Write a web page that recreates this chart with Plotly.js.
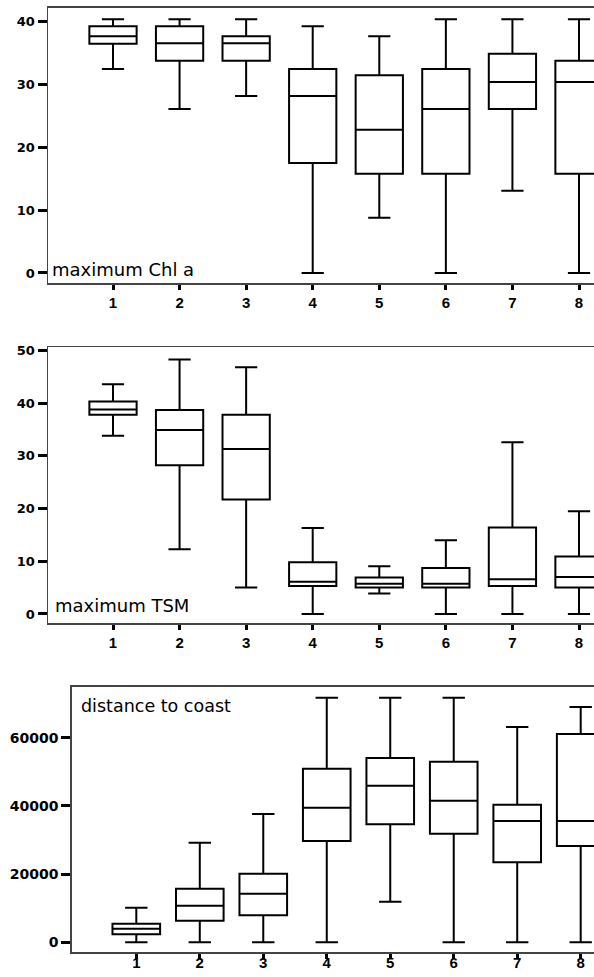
<!DOCTYPE html>
<html>
<head>
<meta charset="utf-8">
<script src="https://cdn.plot.ly/plotly-3.0.1.min.js"></script>
<style>
html,body{margin:0;padding:0;overflow:hidden;background:#fff;width:594px;height:977px;}
#chart{width:610px;height:977px;}
</style>
</head>
<body>
<div id="chart"></div>
<script>
// ---- data ----
var categories = [1, 2, 3, 4, 5, 6, 7, 8];
var tickLabels = ["1", "2", "3", "4", "5", "6", "7", "8"];

var chlLow  = [32.5, 26.1, 28.2, 0, 8.8, 0, 13.1, 0];
var chlQ1   = [36.5, 33.8, 33.8, 17.5, 15.8, 15.8, 26.1, 15.8];
var chlMed  = [37.7, 36.6, 36.6, 28.2, 22.8, 26.1, 30.4, 30.4];
var chlQ3   = [39.3, 39.3, 37.7, 32.5, 31.5, 32.5, 34.9, 33.8];
var chlHigh = [40.4, 40.4, 40.4, 39.3, 37.7, 40.4, 40.4, 40.4];

var tsmLow  = [33.8, 12.3, 5.0, 0, 3.9, 0, 0, 0];
var tsmQ1   = [37.8, 28.2, 21.7, 5.3, 5.0, 5.0, 5.3, 5.0];
var tsmMed  = [38.8, 34.9, 31.3, 6.1, 5.75, 5.75, 6.6, 7.0];
var tsmQ3   = [40.3, 38.7, 37.8, 9.8, 6.9, 8.7, 16.4, 10.9];
var tsmHigh = [43.6, 48.3, 46.8, 16.3, 9.05, 14.0, 32.6, 19.5];

var distLow  = [0, 0, 0, 0, 11900, 0, 0, 0];
var distQ1   = [2350, 6330, 7920, 29700, 34600, 31850, 23460, 28240];
var distMed  = [3990, 10730, 14250, 39470, 45920, 41520, 35570, 35570];
var distQ3   = [5450, 15720, 20120, 50910, 54050, 52960, 40350, 61090];
var distHigh = [10150, 29210, 37620, 71730, 71730, 71730, 63140, 69000];

var panelTitles = ["maximum Chl a", "maximum TSM", "distance to coast"];

// ---- layout helpers ----
var W = 610, H = 977;
function xf(px) { return px / W; }
function yf(py) { return 1 - py / H; }

var FONT = "DejaVu Sans, Arial, sans-serif";
var XFONT = "Liberation Sans, Arial, sans-serif";

function boxTrace(xa, ya, lo, q1, med, q3, hi, w) {
  return {
    type: "box", xaxis: xa, yaxis: ya,
    x: categories, lowerfence: lo, q1: q1, median: med, q3: q3, upperfence: hi,
    width: w, whiskerwidth: 0.47, boxpoints: false,
    fillcolor: "#ffffff", line: { color: "#000000", width: 2 },
    hoverinfo: "skip", showlegend: false
  };
}

var data = [
  boxTrace("x", "y", chlLow, chlQ1, chlMed, chlQ3, chlHigh, 0.71),
  boxTrace("x2", "y2", tsmLow, tsmQ1, tsmMed, tsmQ3, tsmHigh, 0.71),
  boxTrace("x3", "y3", distLow, distQ1, distMed, distQ3, distHigh, 0.75)
];

function xAxis(anchor, dom, range, standoff) {
  return {
    anchor: anchor, domain: dom, range: range,
    tickmode: "array", tickvals: categories, ticktext: tickLabels,
    ticks: "outside", ticklen: 5, tickwidth: 3, tickcolor: "#000",
    ticklabelstandoff: standoff,
    showline: true, mirror: true, linecolor: "#444", linewidth: 1.8,
    showgrid: false, zeroline: false,
    tickfont: { family: XFONT, size: 15, color: "#000", weight: "bold" }
  };
}
function yAxis(anchor, dom, range, tv, fmt, fs) {
  var a = {
    anchor: anchor, domain: dom, range: range,
    tickmode: "array", tickvals: tv,
    ticks: "outside", ticklen: 9, tickwidth: 3, tickcolor: "#000",
    showline: true, mirror: true, linecolor: "#444", linewidth: 1.5,
    showgrid: false, zeroline: false,
    tickfont: { family: FONT, size: fs, color: "#000", weight: "bold" }
  };
  if (fmt) a.tickformat = fmt;
  return a;
}

var layout = {
  width: W, height: H,
  margin: { l: 0, r: 0, t: 0, b: 0 },
  paper_bgcolor: "#fff", plot_bgcolor: "#fff",
  showlegend: false,
  xaxis: xAxis("y", [xf(48), 1], [1 - 65 / 66.57, 8 + 31 / 66.57], 0),
  yaxis: yAxis("x", [yf(283), yf(8)], [-1.6, 42.2], [0, 10, 20, 30, 40], null, 13),
  xaxis2: xAxis("y2", [xf(48), 1], [1 - 65 / 66.57, 8 + 31 / 66.57], 0),
  yaxis2: yAxis("x2", [yf(623.3), yf(347.3)], [-1.77, 50.6], [0, 10, 20, 30, 40, 50], null, 13),
  xaxis3: xAxis("y3", [xf(71.7), 1], [1 - 64.6 / 63.49, 8 + 29.3 / 63.49], -9),
  yaxis3: yAxis("x3", [yf(952), yf(686.7)], [-2845, 74956], [0, 20000, 40000, 60000], "d", 14),
  annotations: [
    { text: panelTitles[0], xref: "paper", yref: "paper", x: xf(50), y: yf(269),
      xanchor: "left", yanchor: "middle", showarrow: false,
      font: { family: FONT, size: 18, color: "#000" } },
    { text: panelTitles[1], xref: "paper", yref: "paper", x: xf(53), y: yf(605),
      xanchor: "left", yanchor: "middle", showarrow: false,
      font: { family: FONT, size: 18, color: "#000" } },
    { text: panelTitles[2], xref: "paper", yref: "paper", x: xf(79), y: yf(706),
      xanchor: "left", yanchor: "middle", showarrow: false,
      font: { family: FONT, size: 17.5, color: "#000" } }
  ]
};

Plotly.newPlot("chart", data, layout, { staticPlot: true, displayModeBar: false });
</script>
</body>
</html>
